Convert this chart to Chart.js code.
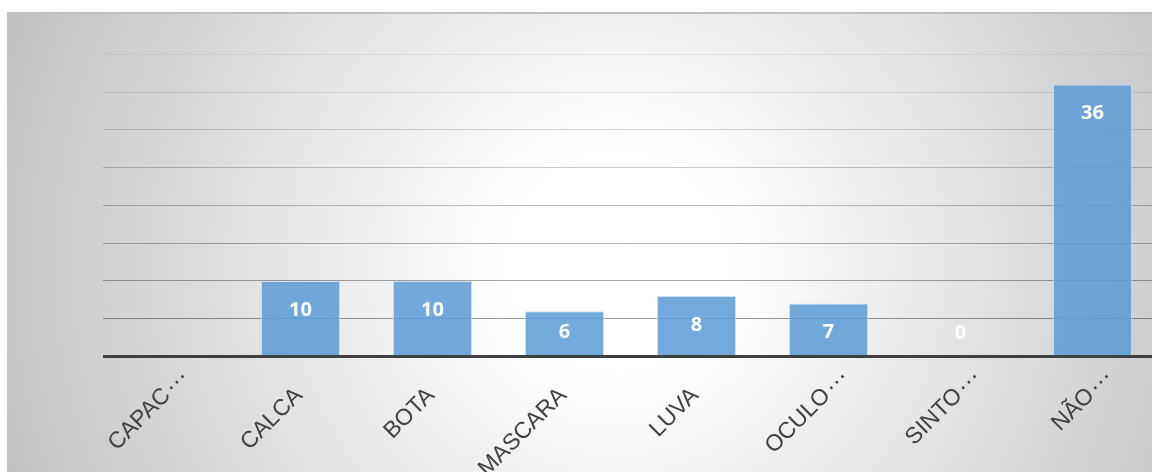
<!DOCTYPE html>
<html>
<head>
<meta charset="utf-8">
<script src="https://cdn.jsdelivr.net/npm/chart.js@4/dist/chart.umd.min.js"></script>
<style>
  html, body { margin: 0; padding: 0; background: #ffffff; overflow: hidden; }
  body { width: 1152px; height: 472px; position: relative; }
  #wrap {
    position: absolute; left: 7px; top: 12px; width: 1145px; height: 460px; overflow: hidden;
    background:
      linear-gradient(#bfbfbf, #bfbfbf) top left / 100% 2px no-repeat,
      radial-gradient(circle farthest-corner at 610px 250px, #ffffff 0%, #ffffff 16%, #e8e8e8 48%, #cbcbcb 86%, #c0c0c0 100%);
  }
  #c { position: absolute; left: 0; top: 0; }
</style>
</head>
<body>
<div id="wrap"><canvas id="c" width="1160" height="460"></canvas></div>
<script>
// ---- data ----
const categories = ['CAPAC…', 'CALCA', 'BOTA', 'MASCARA', 'LUVA', 'OCULO…', 'SINTO…', 'NÃO…'];
const values = [null, 10, 10, 6, 8, 7, 0, 36];
const yMin = 0;
const yMax = 40;
const yStep = 5;

// ---- plugins ----
const valueLabels = {
  id: 'valueLabels',
  afterDatasetsDraw(chart) {
    const ctx = chart.ctx;
    const meta = chart.getDatasetMeta(0);
    ctx.save();
    ctx.fillStyle = '#ffffff';
    ctx.font = 'bold 20px "Open Sans", "Liberation Sans", sans-serif';
    ctx.textAlign = 'center';
    ctx.textBaseline = 'middle';
    meta.data.forEach((bar, i) => {
      const v = values[i];
      if (v === null || v === undefined) return;
      const y = Math.min(bar.y + 29, bar.base - 23);
      ctx.fillText(String(v), bar.x, y);
    });
    ctx.restore();
  }
};

const rotatedLabels = {
  id: 'rotatedLabels',
  afterDraw(chart) {
    const ctx = chart.ctx;
    const xs = chart.scales.x;
    const bottom = chart.chartArea.bottom;
    ctx.save();
    ctx.fillStyle = '#404040';
    categories.forEach((label, i) => {
      const x = xs.getPixelForValue(i) + 3;
      const y = bottom + 40;
      const parts = label.split('…');
      ctx.save();
      ctx.translate(x, y);
      ctx.rotate(-Math.PI / 4);
      ctx.font = '23px "Liberation Sans", Arial, sans-serif';
      ctx.textAlign = 'right';
      ctx.textBaseline = 'alphabetic';
      ctx.fillText(parts[0], 0, 0);
      if (label.indexOf('…') >= 0) {
        ctx.textAlign = 'left';
        ctx.font = '25px "Liberation Sans", Arial, sans-serif';
        ctx.fillText('…', 1.5, -5);
      }
      ctx.restore();
    });
    ctx.restore();
  }
};

new Chart(document.getElementById('c'), {
  type: 'bar',
  data: {
    labels: categories,
    datasets: [{
      data: values,
      backgroundColor: 'rgba(91,155,213,0.85)',
      borderColor: 'rgba(200,222,242,0.85)',
      borderWidth: 1,
      barPercentage: 0.6,
      categoryPercentage: 1.0
    }]
  },
  options: {
    responsive: false,
    maintainAspectRatio: false,
    animation: false,
    devicePixelRatio: 1,
    layout: { padding: { left: 95.5, right: 8.5, top: 42.3, bottom: 115.5 } },
    plugins: { legend: { display: false }, tooltip: { enabled: false } },
    scales: {
      x: { display: false, offset: true },
      y: {
        min: yMin, max: yMax,
        ticks: { display: false, stepSize: yStep },
        border: { display: false },
        grid: {
          drawTicks: false,
          color: (c) => {
            const v = c.tick ? c.tick.value : 0;
            if (v === 0) return '#404040';
            const a = 0.06 + (yMax - v) / (yMax - yStep) * 0.34;
            return 'rgba(0,0,0,' + a.toFixed(3) + ')';
          },
          lineWidth: (c) => (c.tick && c.tick.value === 0) ? 3 : 1
        }
      }
    }
  },
  plugins: [valueLabels, rotatedLabels]
});
</script>
</body>
</html>
